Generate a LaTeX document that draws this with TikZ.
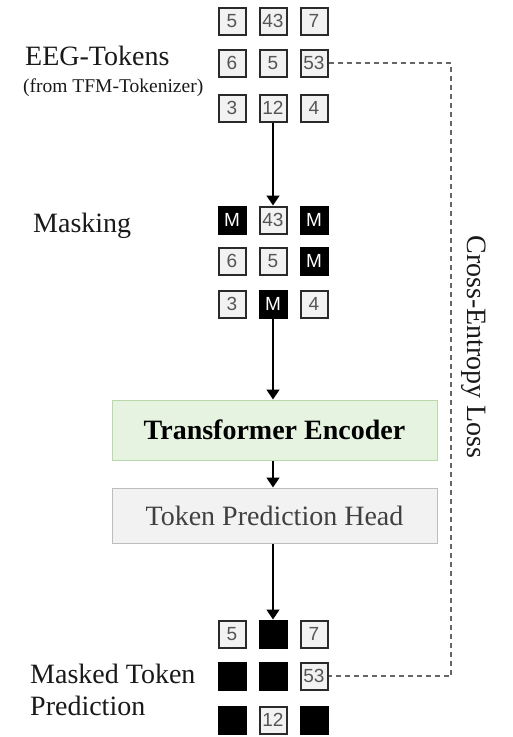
\documentclass[tikz,border=0pt]{standalone}
\usepackage{fontspec}
\setmainfont{Liberation Serif}
\setsansfont{Liberation Sans}
\usetikzlibrary{arrows.meta}
\definecolor{tokfill}{HTML}{F2F2F2}
\definecolor{tokline}{HTML}{2A2A2A}
\definecolor{toktext}{HTML}{555555}
\definecolor{encfill}{HTML}{E7F3E1}
\definecolor{encline}{HTML}{B8D9AA}
\definecolor{headfill}{HTML}{F2F2F2}
\definecolor{headline}{HTML}{BDBDBD}
\definecolor{headtext}{HTML}{404040}
\definecolor{dashgray}{HTML}{666666}
\tikzset{
  tok/.style={draw=tokline, fill=tokfill, line width=2pt, minimum size=27pt, inner sep=0pt,
    font=\sffamily\fontsize{19}{19}\selectfont, text=toktext},
  msk/.style={tok, fill=black, draw=black, text=white},
  bigbox/.style={minimum width=325pt, inner sep=0pt, line width=1pt},
  lbl/.style={anchor=base west, inner sep=0pt, font=\fontsize{28}{30}\selectfont, text=black!90},
  arr/.style={line width=1.4pt, -{Triangle[width=13pt,length=10pt]}},
  loss/.style={draw=dashgray, line width=1.5pt, dash pattern=on 5pt off 4pt}
}
\begin{document}
\begin{tikzpicture}[x=1pt,y=-1pt]
\useasboundingbox (0,0) rectangle (513,737);
% top grid
\node[tok] (a11) at (232,21) {5};
\node[tok] (a12) at (273,21) {43};
\node[tok] (a13) at (314,21) {7};
\node[tok] (a21) at (232,63) {6};
\node[tok] (a22) at (273,63) {5};
\node[tok] (a23) at (314,63) {53};
\node[tok] (a31) at (232,108) {3};
\node[tok] (a32) at (273,108) {12};
\node[tok] (a33) at (314,108) {4};
% masking grid
\node[msk] (b11) at (232,220) {M};
\node[tok] (b12) at (273,220) {43};
\node[msk] (b13) at (314,220) {M};
\node[tok] (b21) at (232,261) {6};
\node[tok] (b22) at (273,261) {5};
\node[msk] (b23) at (314,261) {M};
\node[tok] (b31) at (232,304) {3};
\node[msk] (b32) at (273,304) {M};
\node[tok] (b33) at (314,304) {4};
% prediction grid
\node[tok] (c11) at (232,634) {5};
\node[msk] (c12) at (273,634) {};
\node[tok] (c13) at (314,634) {7};
\node[msk] (c21) at (232,676) {};
\node[msk] (c22) at (273,676) {};
\node[tok] (c23) at (314,676) {53};
\node[msk] (c31) at (232,720) {};
\node[tok] (c32) at (273,720) {12};
\node[msk] (c33) at (314,720) {};
% blocks
\node[bigbox, draw=encline, fill=encfill, minimum height=60pt,
  font=\bfseries\fontsize{28}{30}\selectfont] (enc) at (274.5,430) {Transformer Encoder};
\node[bigbox, draw=headline, fill=headfill, minimum height=55pt, text=headtext,
  font=\fontsize{28}{30}\selectfont] (head) at (274.5,515.5) {Token Prediction Head};
% labels
\node[lbl] (l1) at (25,65) {EEG-Tokens};
\node[lbl, font=\fontsize{19.5}{20}\selectfont] (l2) at (23,92) {(from TFM-Tokenizer)};
\node[lbl] (l3) at (33,232) {Masking};
\node[lbl] (l4) at (30,683) {Masked Token};
\node[lbl] (l5) at (30,715) {Prediction};
\node[anchor=base, rotate=-90, inner sep=0pt, font=\fontsize{28}{30}\selectfont, text=black!90] (lossl) at (467,347) {Cross-Entropy Loss};
% arrows
\draw[arr] (a32.south) -- (b12.north);
\draw[arr] (b32.south) -- (b32.south |- enc.north);
\draw[arr] (b32.south |- enc.south) -- (b32.south |- head.north);
\draw[arr] (b32.south |- head.south) -- (c12.north);
% loss connector
\coordinate (k1) at (451,63);
\coordinate (k2) at (451,676);
\draw[loss] (a23.east) -- (k1) -- (k2) -- (c23.east);
\end{tikzpicture}
\end{document}
